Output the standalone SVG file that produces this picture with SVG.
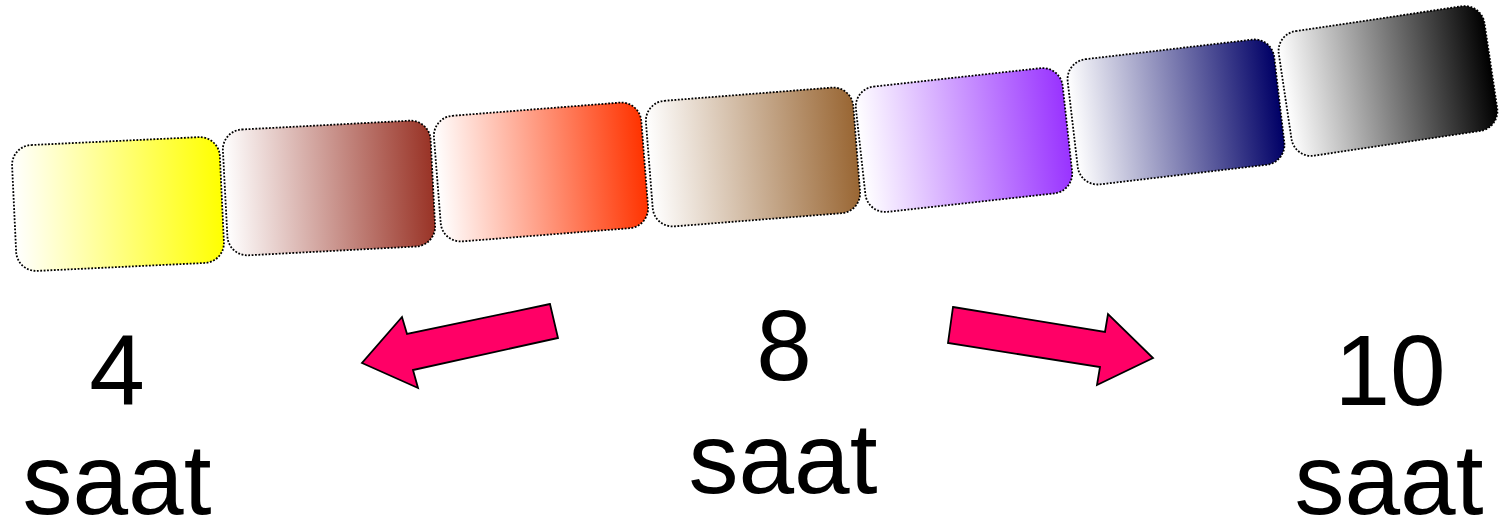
<svg xmlns="http://www.w3.org/2000/svg" width="1506" height="532" viewBox="0 0 1506 532">
<style>
.box{stroke:#000;stroke-width:1.8;stroke-dasharray:1.8 1.6}
.arrow{fill:#FF0066;stroke:#000;stroke-width:1.8;stroke-linejoin:miter}
.lbl{font-family:"Liberation Sans",Arial,sans-serif;font-size:100px;fill:#000;text-anchor:middle}
</style>
<defs>
<linearGradient id="g1" x1="0" y1="0" x2="1" y2="0"><stop offset="0" stop-color="#fff"/><stop offset="1" stop-color="#FFFF00"/></linearGradient>
<linearGradient id="g2" x1="0" y1="0" x2="1" y2="0"><stop offset="0" stop-color="#fff"/><stop offset="1" stop-color="#993326"/></linearGradient>
<linearGradient id="g3" x1="0" y1="0" x2="1" y2="0"><stop offset="0" stop-color="#fff"/><stop offset="1" stop-color="#FF3300"/></linearGradient>
<linearGradient id="g4" x1="0" y1="0" x2="1" y2="0"><stop offset="0" stop-color="#fff"/><stop offset="1" stop-color="#996633"/></linearGradient>
<linearGradient id="g5" x1="0" y1="0" x2="1" y2="0"><stop offset="0" stop-color="#fff"/><stop offset="1" stop-color="#9933FF"/></linearGradient>
<linearGradient id="g6" x1="0" y1="0" x2="1" y2="0"><stop offset="0" stop-color="#fff"/><stop offset="1" stop-color="#000066"/></linearGradient>
<linearGradient id="g7" x1="0" y1="0" x2="1" y2="0"><stop offset="0" stop-color="#fff"/><stop offset="1" stop-color="#000000"/></linearGradient>
</defs>
<g id="box1"><rect class="box" fill="url(#g1)" x="-104" y="-63" width="208" height="126" rx="20" transform="translate(118,204) rotate(-2.7)"/></g>
<g id="box2"><rect class="box" fill="url(#g2)" x="-104" y="-63" width="208" height="126" rx="20" transform="translate(329,188) rotate(-3)"/></g>
<g id="box3"><rect class="box" fill="url(#g3)" x="-104" y="-63" width="208" height="126" rx="20" transform="translate(541,172) rotate(-4.5)"/></g>
<g id="box4"><rect class="box" fill="url(#g4)" x="-104" y="-63" width="208" height="126" rx="20" transform="translate(753,157) rotate(-4.5)"/></g>
<g id="box5"><rect class="box" fill="url(#g5)" x="-104" y="-63" width="208" height="126" rx="20" transform="translate(964,140) rotate(-6.3)"/></g>
<g id="box6"><rect class="box" fill="url(#g6)" x="-104" y="-63" width="208" height="126" rx="20" transform="translate(1176,112) rotate(-6.7)"/></g>
<g id="box7"><rect class="box" fill="url(#g7)" x="-104" y="-63" width="208" height="126" rx="20" transform="translate(1388,81) rotate(-8.5)"/></g>
<g id="connectors">
<polygon class="arrow" points="550,304 407,334 402,317 362,363 418,388 413,370 558,338"/>
<polygon class="arrow" points="953,307 1105,332 1108,314 1153,358 1097,385 1100,367 948,343"/>
</g>
<g id="label-left"><text class="lbl" x="117" y="405">4</text><text class="lbl" x="117" y="514">saat</text></g>
<g id="label-mid"><text class="lbl" x="784" y="380">8</text><text class="lbl" x="783" y="493">saat</text></g>
<g id="label-right"><text class="lbl" x="1390" y="405">10</text><text class="lbl" x="1389" y="514">saat</text></g>
</svg>
